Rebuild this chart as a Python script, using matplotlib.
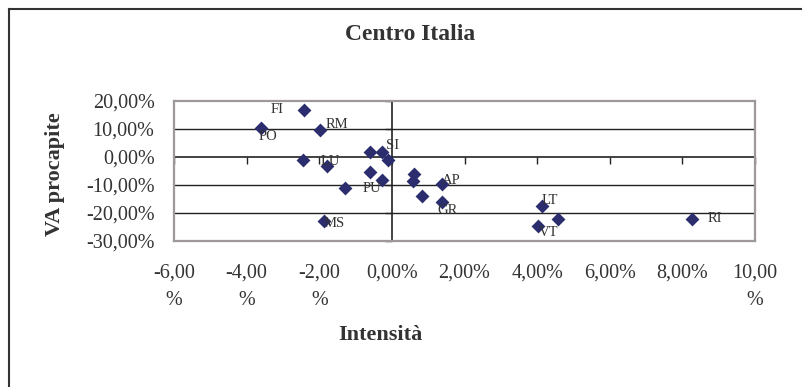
import matplotlib.pyplot as plt
from matplotlib.ticker import FixedLocator, NullFormatter

# dati: intensità (x, %) e VA procapite (y, %)
intensita = [-2.41, -3.61, -1.97, -2.46, -1.79, -0.60, -0.27, -0.10, -0.60, -0.27,
             -1.29, -1.86, 0.61, 0.57, 1.39, 0.83, 1.39, 4.14, 4.58, 4.03, 8.26]
va_procapite = [16.8, 10.5, 9.6, -1.1, -3.2, 1.9, 1.9, -1.2, -5.3, -8.3,
                -11.0, -22.7, -5.9, -8.4, -9.8, -14.1, -16.1, -17.6, -22.1, -24.8, -22.1]
etichette = ["FI", "PO", "RM", "", "LU", "", "SI", "", "", "PU",
             "", "MS", "", "", "AP", "", "GR", "LT", "", "VT", "RI"]

x_ticks = [-6, -4, -2, 0, 2, 4, 6, 8, 10]
x_ticklabels = ["-6,00\n%", "-4,00\n%", "-2,00\n%", "0,00%", "2,00%", "4,00%",
                "6,00%", "8,00%", "10,00\n%"]
y_ticks = [-30, -20, -10, 0, 10, 20]
y_ticklabels = ["-30,00%", "-20,00%", "-10,00%", "0,00%", "10,00%", "20,00%"]

# spostamento etichette (pixel)
offset = {"FI": (-27, 0), "PO": (7, -9), "RM": (17, 6), "LU": (3, 4), "SI": (10, 6),
          "PU": (-10, -8), "MS": (10, -3), "AP": (9, 4), "GR": (5, -8),
          "LT": (8, 6), "VT": (10, -6), "RI": (23, 0)}

plt.rcParams['font.family'] = ['Liberation Serif', 'DejaVu Serif']
colore = '#2b2d6e'
bordo = '#9e9898'

fig = plt.figure(figsize=(8.02, 3.87), dpi=100)
ax = fig.add_axes([174 / 802, 1 - 241 / 387, 581 / 802, 140 / 387])

xmin, xmax, ymin, ymax = -6, 10, -30, 20
ax.set_xlim(xmin, xmax)
ax.set_ylim(ymin, ymax)

for g in y_ticks:
    if g not in (0, ymin, ymax):
        ax.axhline(g, color='#222222', lw=1, zorder=1)

ax.scatter(intensita, va_procapite, marker='D', s=50, color=colore, zorder=4, linewidths=0)

for x, y, t in zip(intensita, va_procapite, etichette):
    if t:
        ax.annotate(t, (x, y), xytext=offset[t], textcoords='offset pixels',
                    ha='center', va='center', fontsize=10.5, color='#333333', zorder=5)

ax.set_xticks(x_ticks)
ax.set_xticklabels(x_ticklabels, fontsize=14.5, color='#333333', linespacing=1.6)
ax.set_yticks(y_ticks)
ax.set_yticklabels(y_ticklabels, fontsize=14.5, color='#333333')
ax.tick_params(axis='x', length=0, pad=16)
ax.tick_params(axis='y', length=0, pad=14)
for s in ax.spines.values():
    s.set_color(bordo)
    s.set_linewidth(1.6)

# assi che si incrociano nello zero
sx = ax.secondary_xaxis((0 - ymin) / (ymax - ymin))
sx.xaxis.set_major_locator(FixedLocator(x_ticks))
sx.xaxis.set_major_formatter(NullFormatter())
sx.xaxis.set_ticks_position('bottom')
sx.tick_params(axis='x', direction='out', length=5, width=1, color='#222222',
               labelbottom=False, labeltop=False)
for s in sx.spines.values():
    s.set_color('#222222')
    s.set_linewidth(1.2)
sy = ax.secondary_yaxis((0 - xmin) / (xmax - xmin))
sy.yaxis.set_major_locator(FixedLocator(y_ticks))
sy.yaxis.set_major_formatter(NullFormatter())
sy.yaxis.set_ticks_position('left')
sy.tick_params(axis='y', direction='out', length=5, width=1, color='#222222',
               labelleft=False, labelright=False)
for s in sy.spines.values():
    s.set_color('#222222')
    s.set_linewidth(1.2)

fig.text(410 / 802, 1 - 34 / 387, "Centro Italia", ha='center', va='center',
         fontsize=17, fontweight='bold', color='#333333')
fig.text(55 / 802, 1 - 174 / 387, "VA procapite", ha='center', va='center', rotation=90,
         fontsize=16, fontweight='bold', color='#333333')
fig.text(380 / 802, 1 - 335 / 387, "Intensità", ha='center', va='center',
         fontsize=16, fontweight='bold', color='#333333')

# cornice esterna (solo sopra e a sinistra)
fig.add_artist(plt.Line2D([9 / 802, 9 / 802], [0, 1 - 9 / 387], color='#333333', lw=1.5))
fig.add_artist(plt.Line2D([9 / 802, 1], [1 - 9 / 387, 1 - 9 / 387], color='#333333', lw=1.5))

fig.savefig("out.png", dpi=100)
